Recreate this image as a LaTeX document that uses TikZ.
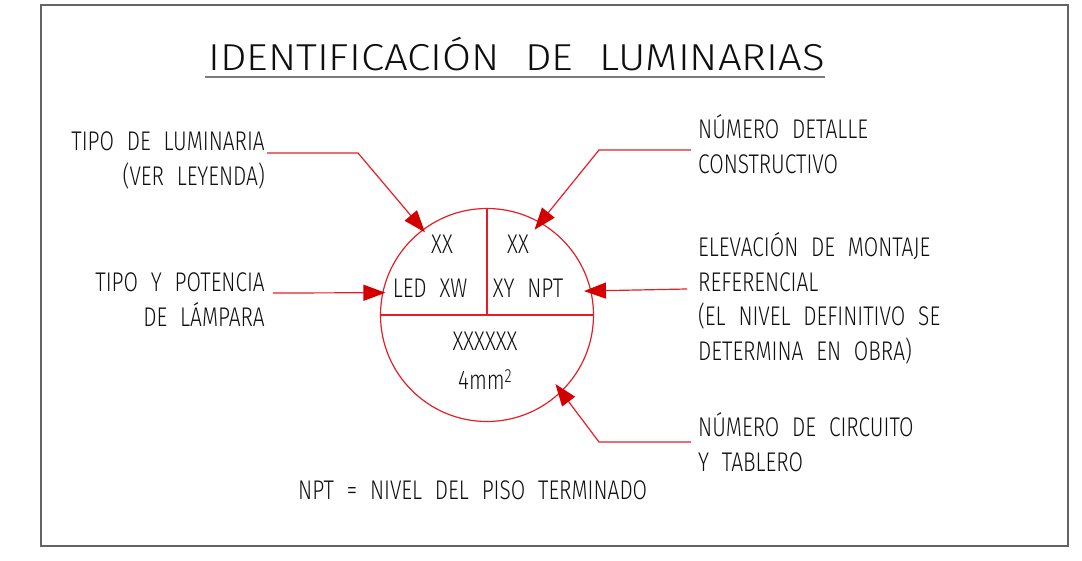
\documentclass[tikz,border=0pt]{standalone}
\usepackage{fontspec}
\usetikzlibrary{arrows.meta}
\newfontfamily\cadfont[FakeStretch=0.775,WordSpace=2.2]{Fira Sans Light}
\newfontfamily\cadtitle[FakeStretch=1.12,WordSpace=2.2]{Fira Sans Light}
\definecolor{cadred}{RGB}{228,30,38}
\definecolor{cadhead}{RGB}{212,0,0}
\definecolor{cadink}{RGB}{15,15,15}
\definecolor{cadframe}{RGB}{100,100,100}
\begin{document}
\begin{tikzpicture}[x=1pt,y=-1pt,
  lbl/.style={inner sep=0pt, text=cadink, font=\cadfont\fontsize{27}{30}\selectfont},
  leader/.style={draw=cadred, line width=1.2pt, -{Triangle[length=22pt,width=16pt,color=cadhead]}},
  redline/.style={draw=cadred, line width=1.2pt}
]
\useasboundingbox (0,0) rectangle (1082,561);
\draw[cadframe, line width=2pt] (41,5) rectangle (1068,546);

% title
\node[anchor=base west, inner sep=0pt, text=cadink, font=\cadtitle\fontsize{37.5}{40}\selectfont] (title) at (208,71) {IDENTIFICACIÓN DE LUMINARIAS};
\draw[cadframe!85, line width=2pt] ([xshift=-3pt,yshift=-6.5pt]title.base west) -- ([xshift=0pt,yshift=-6.5pt]title.base east);

% circle
\node[circle, draw=cadred, line width=1.2pt, minimum size=213pt, inner sep=0pt] (c) at (487,315) {};
\draw[redline] (c.west) -- (c.east);
\draw[redline] (c.north) -- (c.center);

% inside texts
\node[lbl, anchor=base] (x1) at (442,254) {XX};
\node[lbl, anchor=base] (led) at (430,298) {LED XW};
\node[lbl, anchor=base] (x2) at (518,254) {XX};
\node[lbl, anchor=base] (xy) at (528,298) {XY NPT};
\node[lbl, anchor=base] (x6) at (485,351) {XXXXXX};
\node[lbl, anchor=base] (mm) at (485,389) {4mm\raisebox{6.5pt}{\fontsize{19}{19}\selectfont 2}};

% left labels
\node[lbl, anchor=base east] (l1a) at (265,151) {TIPO DE LUMINARIA};
\node[lbl, anchor=base east] (l1b) at (265,186) {(VER LEYENDA)};
\node[lbl, anchor=base east] (l2a) at (265,292) {TIPO Y POTENCIA};
\node[lbl, anchor=base east] (l2b) at (265,327) {DE LÁMPARA};

% right labels
\node[lbl, anchor=base west] (r1a) at (698,139) {NÚMERO DETALLE};
\node[lbl, anchor=base west] (r1b) at (698,174) {CONSTRUCTIVO};
\node[lbl, anchor=base west] (r2a) at (698,257) {ELEVACIÓN DE MONTAJE};
\node[lbl, anchor=base west] (r2b) at (698,292) {REFERENCIAL};
\node[lbl, anchor=base west] (r2c) at (698,326) {(EL NIVEL DEFINITIVO SE};
\node[lbl, anchor=base west] (r2d) at (698,361) {DETERMINA EN OBRA)};
\node[lbl, anchor=base west] (r3a) at (698,436) {NÚMERO DE CIRCUITO};
\node[lbl, anchor=base west] (r3b) at (698,471) {Y TABLERO};

% note
\node[lbl, anchor=base west] (npt) at (298,499) {NPT = NIVEL DEL PISO TERMINADO};

% leaders
\coordinate (k1s) at (267,153); \coordinate (k1b) at (358,153);
\draw[leader, shorten >=-3.7pt] (k1s) -- (k1b) -- (c.127.9);
\coordinate (k2s) at (273,293);
\draw[leader, shorten >=-3.2pt] (k2s) -- (c.168.4);
\coordinate (k3s) at (691,150); \coordinate (k3b) at (599,150);
\draw[leader, shorten >=-9.6pt] (k3s) -- (k3b) -- (c.60.1);
\coordinate (k4s) at (687,289);
\draw[leader, shorten >=-7.4pt] (k4s) -- (c.13.8);
\coordinate (k5s) at (691,442); \coordinate (k5b) at (599,442);
\draw[leader, shorten >=-10pt] (k5s) -- (k5b) -- (c.-46.7);
\end{tikzpicture}
\end{document}
